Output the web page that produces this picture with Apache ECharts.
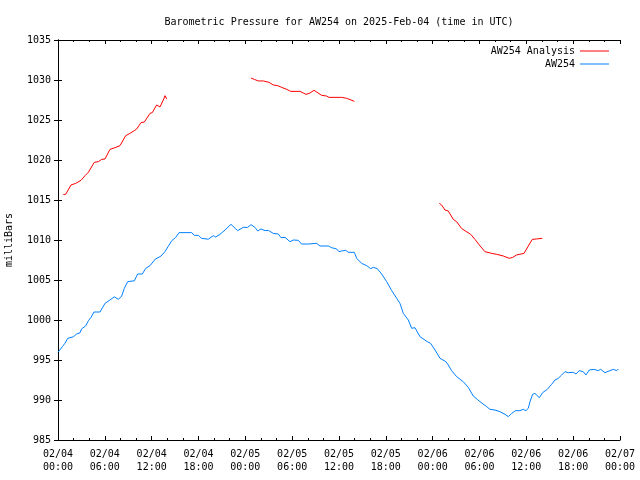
<!DOCTYPE html>
<html>
<head>
<meta charset="utf-8">
<script src="https://cdn.jsdelivr.net/npm/echarts@6/dist/echarts.min.js"></script>
<style>html,body{margin:0;padding:0;background:#fff}#c{width:640px;height:480px}</style>
</head>
<body>
<div id="c"></div>
<script>
// Time in hours since 2025-02-04 00:00 UTC
var xTickLabels = ['02/04\n00:00','02/04\n06:00','02/04\n12:00','02/04\n18:00','02/05\n00:00','02/05\n06:00','02/05\n12:00','02/05\n18:00','02/06\n00:00','02/06\n06:00','02/06\n12:00','02/06\n18:00','02/07\n00:00'];
var yTicks = [985, 990, 995, 1000, 1005, 1010, 1015, 1020, 1025, 1030, 1035];

var obsHours = [0,0.55,0.9,1.24,1.96,2.39,2.82,3.03,3.54,3.89,4.23,4.61,5.38,5.6,6.02,6.66,7.22,7.73,8.16,8.5,8.93,9.78,10.2,10.8,11.24,11.8,12.43,13.2,13.7,14.1,14.56,15.08,15.5,17.13,17.46,17.98,18.4,19.26,19.9,20.2,20.75,21.4,22.16,22.7,23.02,23.74,24.3,24.72,25.24,25.58,26.0,26.52,26.94,27.58,28.22,28.57,29.08,29.72,30.15,30.79,31.2,32.07,32.28,33.14,33.56,34.63,35.06,35.7,36.0,36.34,36.86,37.19,37.96,38.27,38.9,39.55,40.06,40.4,40.9,41.47,42.1,42.75,43.39,43.81,44.24,44.88,45.31,45.73,46.37,47.31,47.74,48.3,48.94,49.7,50.0,50.43,51.07,51.92,52.56,53.2,53.71,54.06,54.92,55.34,55.98,56.62,57.26,57.69,58.12,58.63,59.18,59.61,59.95,60.25,60.47,60.81,61.1,61.66,62.09,62.68,63.24,63.67,64.09,64.53,64.95,65.37,66.01,66.36,66.78,67.29,67.64,68.06,68.66,69.21,69.52,70.07,70.71,71.14,71.57,71.78];
var obsValues = [995.96,996.66,997.1,997.7,997.9,998.25,998.4,998.9,999.25,999.9,1000.33,1001.0,1001.0,1001.25,1002.08,1002.5,1002.9,1002.58,1003.0,1003.96,1004.8,1004.9,1005.75,1005.75,1006.46,1006.8,1007.58,1008.0,1008.54,1009.17,1009.9,1010.33,1010.92,1010.92,1010.58,1010.58,1010.2,1010.1,1010.54,1010.38,1010.7,1011.25,1011.96,1011.46,1011.17,1011.58,1011.58,1011.92,1011.58,1011.13,1011.38,1011.17,1011.2,1010.83,1010.75,1010.29,1010.33,1009.79,1010.0,1009.96,1009.5,1009.5,1009.63,1009.58,1009.25,1009.25,1009.04,1008.88,1008.54,1008.63,1008.71,1008.46,1008.46,1007.71,1007.08,1006.79,1006.42,1006.58,1006.42,1005.75,1004.8,1003.67,1002.71,1002.08,1000.83,1000.0,998.96,999.04,997.92,997.29,997.08,996.25,995.21,994.79,994.38,993.67,992.92,992.29,991.58,990.5,990.08,989.79,989.17,988.83,988.75,988.54,988.21,987.92,988.33,988.67,988.67,988.83,988.67,988.96,989.79,990.71,990.83,990.29,990.92,991.33,991.96,992.5,992.71,993.13,993.54,993.42,993.46,993.25,993.67,993.54,993.13,993.75,993.83,993.67,993.83,993.42,993.67,993.83,993.67,993.88];

var anaHours1 = [0.68,0.98,1.67,2.27,2.52,2.95,3.46,3.89,4.65,5.16,5.6,6.02,6.66,7.3,7.94,8.67,9.22,9.78,10.08,10.63,11.06,11.79,12.08,12.64,12.85,13.07,13.49,13.71,13.92];
var anaValues1 = [1015.7,1015.7,1016.88,1017.08,1017.29,1017.46,1018.04,1018.46,1019.71,1019.79,1020.08,1020.13,1021.33,1021.54,1021.79,1023.04,1023.33,1023.67,1023.88,1024.67,1024.75,1025.83,1025.92,1026.88,1026.96,1026.63,1027.5,1028.04,1027.63];
var anaHours2 = [24.72,25.15,25.66,26.3,26.52,27.03,27.58,28.14,28.66,29.3,29.81,31.0,31.77,32.2,32.8,33.14,33.78,34.42,34.72,36.34,36.98,37.54,37.96];
var anaValues2 = [1030.25,1030.08,1029.88,1029.88,1029.71,1029.71,1029.38,1029.29,1029.08,1028.83,1028.58,1028.58,1028.21,1028.33,1028.71,1028.5,1028.08,1028.0,1027.83,1027.83,1027.71,1027.5,1027.33];
var anaHours3 = [48.85,49.15,49.58,50.0,50.64,51.07,51.72,52.27,52.87,53.42,53.97,54.7,55.56,56.2,57.05,57.82,58.25,58.76,59.7,60.25,60.76,61.32,62.04];
var anaValues3 = [1014.58,1014.38,1013.75,1013.63,1012.58,1012.29,1011.42,1011.08,1010.71,1010.08,1009.38,1008.54,1008.33,1008.21,1008.0,1007.71,1007.83,1008.13,1008.33,1009.25,1010.08,1010.13,1010.21];

function pairs(xs, ys) { return xs.map(function (x, i) { return [x, ys[i]]; }); }

var FONT = 'DejaVu Sans Mono';
var RED = '#ff0000', BLUE = '#0080ff';

function lineSeries(name, color, xs, ys) {
  return {
    name: name, type: 'line', xAxisIndex: 0, yAxisIndex: 0,
    data: pairs(xs, ys), showSymbol: false, symbol: 'none', smooth: false,
    lineStyle: { color: color, width: 1 }, itemStyle: { color: color },
    animation: false, silent: true
  };
}

var xCommon = {
  type: 'value', min: 0, max: 72, interval: 6,
  axisLine: { show: true, lineStyle: { color: '#000', width: 1 } },
  axisTick: { show: true, inside: true, length: 4, lineStyle: { color: '#000' } },
  minorTick: { show: true, splitNumber: 3, length: 2, lineStyle: { color: '#000' } },
  splitLine: { show: false }, minorSplitLine: { show: false }
};
var yCommon = {
  type: 'value', min: 985, max: 1035, interval: 5,
  axisLine: { show: true, lineStyle: { color: '#000', width: 1 } },
  axisTick: { show: true, inside: true, length: 4, lineStyle: { color: '#000' } },
  splitLine: { show: false }
};

var chart = echarts.init(document.getElementById('c'), null, { renderer: 'canvas' });
chart.setOption({
  animation: false,
  backgroundColor: '#fff',
  title: {
    text: 'Barometric Pressure for AW254 on 2025-Feb-04 (time in UTC)',
    left: 334, top: 12, textAlign: 'center',
    textStyle: { fontFamily: FONT, fontSize: 10, fontWeight: 'normal', color: '#000' }
  },
  legend: [
    { data: ['AW254 Analysis'], right: 26, top: 41, align: 'right', icon: 'rect', itemWidth: 29, itemHeight: 1,
      textStyle: { fontFamily: FONT, fontSize: 10, color: '#000' }, itemGap: 0, selectedMode: false },
    { data: ['AW254'], right: 26, top: 54, align: 'right', icon: 'rect', itemWidth: 29, itemHeight: 1,
      textStyle: { fontFamily: FONT, fontSize: 10, color: '#000' }, itemGap: 0, selectedMode: false }
  ],
  grid: { left: 58, right: 20, top: 40, bottom: 40, containLabel: false, outerBoundsMode: 'none' },
  xAxis: [
    Object.assign({}, xCommon, {
      position: 'bottom',
      axisLabel: {
        show: true, margin: 8, fontFamily: FONT, fontSize: 10, color: '#000', lineHeight: 13,
        formatter: function (v) { var i = Math.round(v / 6); return xTickLabels[i] || ''; }
      }
    }),
    Object.assign({}, xCommon, { position: 'top', axisLabel: { show: false } })
  ],
  yAxis: [
    Object.assign({}, yCommon, {
      position: 'left',
      name: 'milliBars', nameLocation: 'middle', nameGap: 44, nameRotate: 90,
      nameTextStyle: { fontFamily: FONT, fontSize: 10, color: '#000' },
      axisLabel: {
        show: true, margin: 7, fontFamily: FONT, fontSize: 10, color: '#000',
        formatter: function (v) { return yTicks.indexOf(v) >= 0 ? String(v) : ''; }
      }
    }),
    Object.assign({}, yCommon, { position: 'right', axisLabel: { show: false } })
  ],
  series: [
    lineSeries('AW254 Analysis', RED, anaHours1, anaValues1),
    lineSeries('AW254 Analysis', RED, anaHours2, anaValues2),
    lineSeries('AW254 Analysis', RED, anaHours3, anaValues3),
    lineSeries('AW254', BLUE, obsHours, obsValues)
  ]
});
</script>
</body>
</html>
